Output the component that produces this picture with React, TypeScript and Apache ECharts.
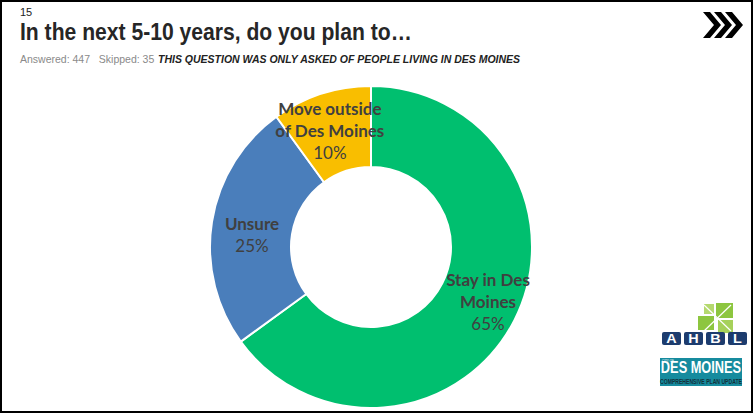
import React, { useEffect, useRef } from "react";
import * as echarts from "echarts";

const categories = ["Stay in Des\nMoines", "Unsure", "Move outside\nof Des Moines"];
const values = [65, 25, 10];
const colors = ["#00BF6F", "#4A7EBB", "#F9BE00"];
const pageNumber = "15";
const titleText = "In the next 5-10 years, do you plan to…";
const answeredText = "Answered: 447   Skipped: 35";
const noteText = "THIS QUESTION WAS ONLY ASKED OF PEOPLE LIVING IN DES MOINES";
const ahblLetters = ["A", "H", "B", "L"];

function chevron(x0: number) {
  const top = 12, bottom = 38, mid = 25, w = 11, t = 7;
  return {
    type: "polygon",
    shape: { points: [[x0, top], [x0 + t, top], [x0 + t + w, mid], [x0 + t, bottom], [x0, bottom], [x0 + w, mid]] },
    style: { fill: "#000" },
  };
}

export default function App() {
  const ref = useRef<HTMLDivElement>(null);
  useEffect(() => {
    if (!ref.current) return;
    const chart = echarts.init(ref.current, null, { renderer: "svg" });
    const labelFont = "Lato, 'Open Sans', sans-serif";
    const graphics: any[] = [
      { type: "rect", shape: { x: 1, y: 1, width: 751, height: 411 }, style: { fill: "none", stroke: "#000", lineWidth: 2 } },
      { type: "text", x: 20, y: 6, style: { text: pageNumber, font: "11px 'Liberation Sans', Arial, sans-serif", fill: "#222" } },
      { type: "text", x: 20, y: 20, scaleX: 0.88, style: { text: titleText, font: "bold 24px 'Liberation Sans', Arial, sans-serif", fill: "#262626" } },
      { type: "text", x: 20, y: 53, style: { text: answeredText, font: "10.5px 'Liberation Sans', Arial, sans-serif", fill: "#8a8a8a" } },
      { type: "text", x: 158, y: 53, style: { text: noteText, font: "italic bold 10.5px 'Liberation Sans', Arial, sans-serif", fill: "#222" } },
      chevron(703), chevron(714), chevron(725),
      // AHBL leaf
      { type: "polygon", shape: { points: [[716, 318], [716, 303], [733, 303], [733, 318]] }, style: { fill: "#8DC63F" } },
      { type: "polygon", shape: { points: [[714, 316], [698, 316], [698, 330], [714, 330]] }, style: { fill: "#8DC63F" } },
      { type: "polygon", shape: { points: [[718, 320], [733, 320], [733, 333], [718, 333]] }, style: { fill: "#A6D15A" } },
      { type: "polygon", shape: { points: [[704, 304], [714, 304], [714, 314], [704, 314]] }, style: { fill: "#B5D96F" } },
      { type: "line", shape: { x1: 704, y1: 331, x2: 731, y2: 305 }, style: { stroke: "#fff", lineWidth: 1.2 } },
      { type: "line", shape: { x1: 704, y1: 305, x2: 731, y2: 331 }, style: { stroke: "#fff", lineWidth: 1.2 } },
      // Des Moines badge
      { type: "rect", shape: { x: 660, y: 358, width: 82, height: 28 }, style: { fill: "#168B9E" } },
      { type: "text", x: 701, y: 359.5, scaleX: 0.8, style: { text: "DES MOINES", font: "bold 16px 'Liberation Sans', sans-serif", fill: "#fff", align: "center" } },
      { type: "text", x: 701, y: 377.5, scaleX: 0.68, style: { text: "COMPREHENSIVE PLAN UPDATE", font: "bold 7.5px 'Liberation Sans', sans-serif", fill: "#13303a", align: "center" } },
      { type: "text", x: 662, y: 359, style: { text: "CITY OF", font: "3px sans-serif", fill: "#fff" } },
    ];
    ahblLetters.forEach((l, i) => {
      const x = 662 + i * 22;
      graphics.push({ type: "rect", shape: { x, y: 332, width: 19, height: 13, r: 2 }, style: { fill: "#1D3C6E" } });
      graphics.push({ type: "text", x: x + 9.5, y: 332.5, scaleX: 1.2, style: { text: l, font: "bold 12px 'Liberation Sans', sans-serif", fill: "#fff", align: "center" } });
    });

    const offsets = [[7, -2], [3, 7], [-3, 1]];

    chart.setOption({
      animation: false,
      backgroundColor: "#fff",
      graphic: graphics,
      series: [
        {
          type: "pie",
          center: [371, 247],
          radius: [80, 161],
          startAngle: 90,
          clockwise: true,
          avoidLabelOverlap: false,
          itemStyle: { borderColor: "#fff", borderWidth: 2 },
          label: {
            show: true,
            position: "inside",
            formatter: (p: any) =>
              p.name.split("\n").map((s: string) => `{b|${s}}`).join("\n") + `\n{v|${p.value}%}`,
            rich: {
              b: { fontFamily: labelFont, fontWeight: "bold", fontSize: 17, color: "#404040", lineHeight: 22 },
              v: { fontFamily: labelFont, fontSize: 17, color: "#404040", lineHeight: 22 },
            },
          },
          labelLine: { show: false },
          data: values.map((v, i) => ({
            name: categories[i],
            value: v,
            itemStyle: { color: colors[i] },
            label: { offset: offsets[i] },
          })),
        },
      ],
    });
    return () => chart.dispose();
  }, []);
  return <div ref={ref} style={{ position: "fixed", left: 0, top: 0, width: 755, height: 414 }} />;
}
